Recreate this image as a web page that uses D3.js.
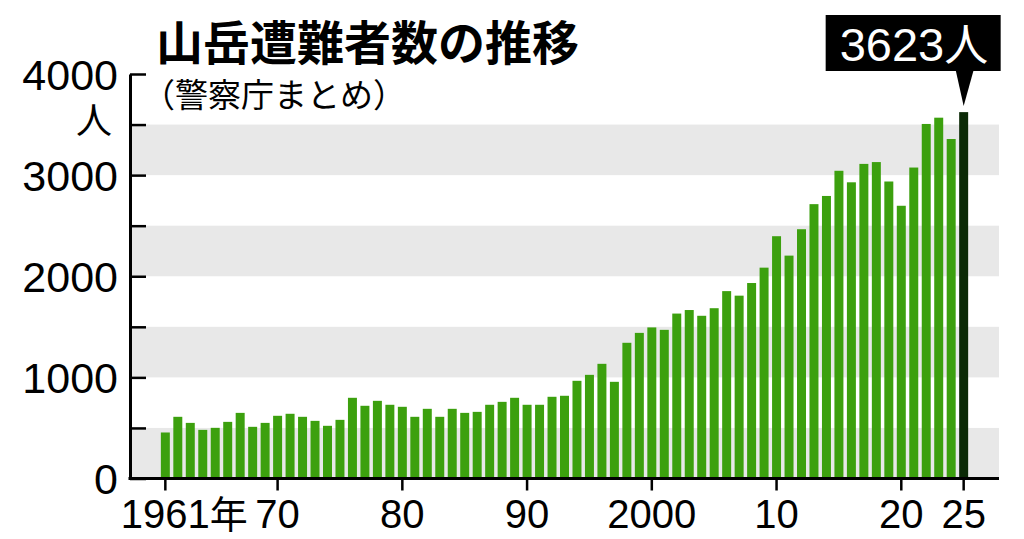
<!DOCTYPE html>
<html>
<head>
<meta charset="utf-8">
<script src="https://cdn.jsdelivr.net/npm/d3@7"></script>
<style>
  body { margin: 0; background: #fff; }
  svg { display: block; }
  .num { font-family: "Liberation Sans", "Noto Sans CJK JP", sans-serif; }
  .jp { font-family: "Noto Sans CJK JP", sans-serif; }
</style>
</head>
<body>
<div class="chart"></div>
<script>
// data
var years = d3.range(1961, 2026);
var victims = [
  455, 610, 550, 481, 501, 560, 649, 511, 550, 620,
  640, 610, 570, 521, 580, 798, 719, 768, 729, 709,
  610, 689, 610, 689, 649, 659, 729, 758, 798, 729,
  729, 808, 818, 966, 1025, 1134, 956, 1342, 1440, 1494,
  1470, 1631, 1666, 1609, 1684, 1853, 1808, 1933, 2085, 2396,
  2204, 2465, 2713, 2794, 3043, 2929, 3111, 3129, 2937, 2697,
  3075, 3506, 3568, 3357, 3623
];
var yTicks = [0, 500, 1000, 1500, 2000, 2500, 3000, 3500, 4000];
var bandStarts = [0, 1000, 2000, 3000];
var xTickYears = [1961, 1970, 1980, 1990, 2000, 2010, 2020, 2025];
var xTickLabels = ["1961", "70", "80", "90", "2000", "10", "20", "25"];

var data = years.map((y, i) => ({ year: y, value: victims[i] }));
var last = data[data.length - 1];

var svgWidth = 1024, svgHeight = 539;
var plotLeft = 130, plotRight = 999, plotTop = 74, plotBottom = 478.5;

var svg = d3.select(".chart").append("svg")
  .attr("width", svgWidth)
  .attr("height", svgHeight);

var x = d3.scaleBand()
  .domain(years)
  .range([159.1, 969.9])
  .paddingInner(0.28)
  .paddingOuter(0.14);

var y = d3.scaleLinear()
  .domain([0, 4000])
  .range([plotBottom, plotTop]);

// grey stripes
svg.append("g").selectAll("rect")
  .data(bandStarts)
  .enter().append("rect")
  .attr("x", plotLeft)
  .attr("width", plotRight - plotLeft)
  .attr("y", d => y(d + 500))
  .attr("height", d => y(d) - y(d + 500))
  .attr("fill", "#e8e8e8");

// bars
svg.append("g").selectAll("rect")
  .data(data)
  .enter().append("rect")
  .attr("x", d => x(d.year))
  .attr("width", x.bandwidth())
  .attr("y", d => y(d.value))
  .attr("height", d => y(0) - y(d.value))
  .attr("fill", d => d.year === last.year ? "#0b2a06" : "#3ca00e");

// y axis
var leftAxis = d3.axisLeft(y)
  .tickValues(yTicks)
  .tickSizeInner(-16)
  .tickSizeOuter(0)
  .tickPadding(12)
  .tickFormat(d => d % 1000 === 0 ? d : "");

var yAxisG = svg.append("g")
  .attr("transform", `translate(${plotLeft},0)`)
  .call(leftAxis);
yAxisG.select(".domain").attr("stroke", "#000").attr("stroke-width", 3);
yAxisG.selectAll(".tick line").attr("stroke", "#000").attr("stroke-width", 2.5);
yAxisG.selectAll(".tick text")
  .attr("class", "num")
  .attr("font-size", 43)
  .attr("fill", "#000")
  .attr("dy", "0.36em");

// x axis
var bottomAxis = d3.axisBottom(x)
  .tickValues(xTickYears)
  .tickSizeInner(12)
  .tickSizeOuter(0)
  .tickPadding(6)
  .tickFormat((d, i) => xTickLabels[i]);

var xAxisG = svg.append("g")
  .attr("transform", `translate(0,${plotBottom})`)
  .call(bottomAxis);
xAxisG.select(".domain").remove();
xAxisG.selectAll(".tick line").attr("stroke", "#000").attr("stroke-width", 2.5);
xAxisG.selectAll(".tick text")
  .attr("class", "num")
  .attr("font-size", 40)
  .attr("fill", "#000")
  .attr("dy", "0.78em");

// first label gets 年 after the centred year
var firstLabel = xAxisG.select(".tick text");
var w = firstLabel.node().getComputedTextLength();
firstLabel.attr("text-anchor", "start").attr("x", -w / 2);
firstLabel.append("tspan").attr("class", "jp").attr("font-size", 38).text("年");

// baseline
svg.append("line")
  .attr("x1", plotLeft - 1.5)
  .attr("x2", plotRight)
  .attr("y1", plotBottom)
  .attr("y2", plotBottom)
  .attr("stroke", "#000")
  .attr("stroke-width", 3);

// unit
svg.append("text")
  .attr("class", "jp")
  .attr("x", 94)
  .attr("y", 134)
  .attr("text-anchor", "middle")
  .attr("font-size", 36)
  .text("人");

// title
svg.append("text")
  .attr("class", "jp")
  .attr("x", 156)
  .attr("y", 60)
  .attr("font-size", 47)
  .attr("font-weight", 700)
  .text("山岳遭難者数の推移");

svg.append("text")
  .attr("class", "jp")
  .attr("x", 142)
  .attr("y", 107)
  .attr("font-size", 33)
  .text("（警察庁まとめ）");

// callout for the latest year
var cx = x(last.year) + x.bandwidth() / 2;
var call = svg.append("g");
call.append("rect")
  .attr("x", cx - 138)
  .attr("y", 15)
  .attr("width", 175)
  .attr("height", 56)
  .attr("fill", "#000");
call.append("path")
  .attr("d", `M${cx - 8},70 L${cx + 10},70 L${cx},${y(last.value) - 6} Z`)
  .attr("fill", "#000");
var calloutText = call.append("text")
  .attr("class", "num")
  .attr("x", cx - 124)
  .attr("y", 61)
  .attr("font-size", 47)
  .attr("fill", "#fff")
  .text(last.value);
calloutText.append("tspan").attr("class", "jp").attr("font-size", 44).text("人");
</script>
</body>
</html>
